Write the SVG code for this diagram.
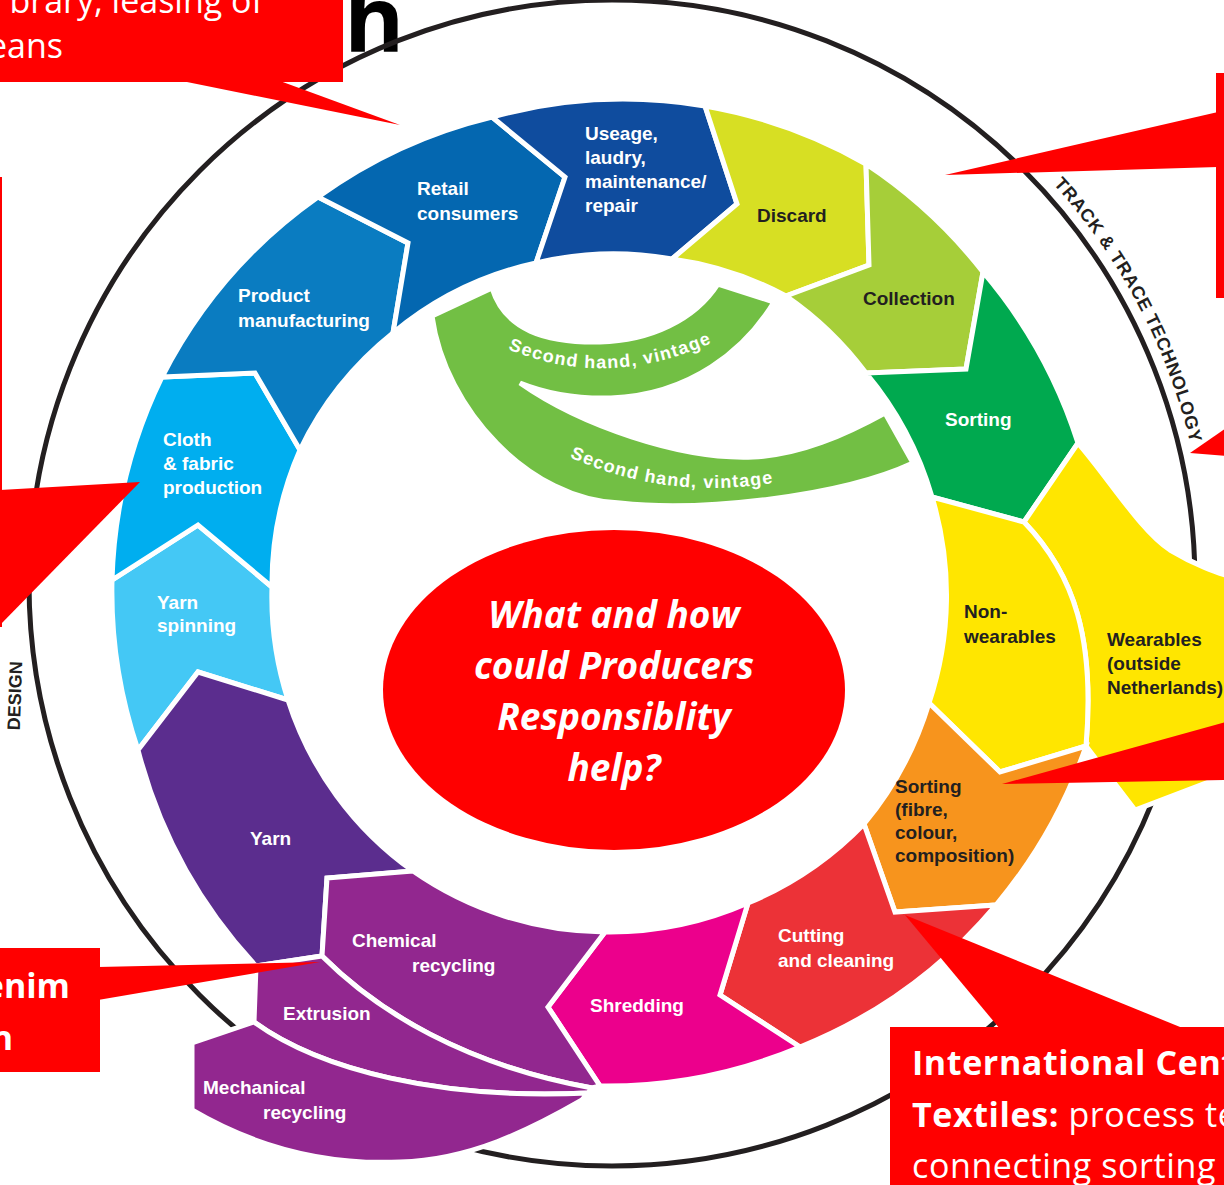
<svg xmlns="http://www.w3.org/2000/svg" width="1224" height="1185" viewBox="0 0 1224 1185">
<style>
.seg{stroke:#fff;stroke-width:5;stroke-linejoin:miter}
.lbl{font-family:"Liberation Sans",Arial,sans-serif;font-size:19px;font-weight:bold}
.w{fill:#fff}
.d{fill:#231F20}
.red{fill:#FF0000}
.co{font-family:"Open Sans","Liberation Sans",sans-serif;font-size:34px;fill:#fff}
.ring{font-family:"Liberation Sans",Arial,sans-serif;font-weight:bold;fill:#231F20}
.sh{font-family:"Liberation Sans",Arial,sans-serif;font-size:18px;font-weight:bold;fill:#fff}
</style>
<defs>
<path id="tt" d="M1032.7,162.3 A595,595 0 0 1 1204.7,531.1"/>
<path id="sh1" d="M505,348 Q608,392 718,340"/>
<path id="sh2" d="M565,455 Q665,502 778,482"/>
</defs>
<rect width="1224" height="1185" fill="#fff"/>

<text x="344" y="52" font-family="'Open Sans','Liberation Sans',sans-serif" font-weight="bold" font-size="92" fill="#000">h</text>

<g id="outer-circle">
<circle cx="612" cy="583" r="583" fill="none" stroke="#231F20" stroke-width="5"/>
<text class="ring" font-size="18"><textPath href="#tt" startOffset="30" textLength="296" lengthAdjust="spacing">TRACK &amp; TRACE TECHNOLOGY</textPath></text>
<text class="ring" font-size="18" transform="translate(21,696) rotate(-88)" text-anchor="middle">DESIGN</text>
</g>

<g id="yarn-spinning">
<path class="seg" fill="#44C8F5" d="M112,580 L198,525 L272,587 A334,334 0 0 0 288,700 L198,672 L138,750 A495,495 0 0 1 112,580 Z"/>
<text class="lbl w" x="157" y="609">Yarn</text>
<text class="lbl w" x="157" y="632">spinning</text>
</g>
<g id="cloth">
<path class="seg" fill="#00AEEF" d="M162,377 L255,373 L300,450 A334,334 0 0 0 272,587 L198,525 L112,580 A495,495 0 0 1 162,377 Z"/>
<text class="lbl w" x="163" y="446">Cloth</text>
<text class="lbl w" x="163" y="470">&amp; fabric</text>
<text class="lbl w" x="163" y="494">production</text>
</g>
<g id="product">
<path class="seg" fill="#0A7CC1" d="M318,197 L408,243 L393,333 A334,334 0 0 0 300,450 L255,373 L162,377 A495,495 0 0 1 318,197 Z"/>
<text class="lbl w" x="238" y="302">Product</text>
<text class="lbl w" x="238" y="327">manufacturing</text>
</g>
<g id="retail">
<path class="seg" fill="#0467B0" d="M492,117 L565,177 L536,263 A334,334 0 0 0 393,333 L408,243 L318,197 A495,495 0 0 1 492,117 Z"/>
<text class="lbl w" x="417" y="195">Retail</text>
<text class="lbl w" x="417" y="220">consumers</text>
</g>
<g id="useage">
<path class="seg" fill="#0F4C9E" d="M705,106 L737,204 L672,259 A334,334 0 0 0 536,263 L565,177 L492,117 A495,495 0 0 1 705,106 Z"/>
<text class="lbl w" x="585" y="140">Useage,</text>
<text class="lbl w" x="585" y="164">laudry,</text>
<text class="lbl w" x="585" y="188">maintenance/</text>
<text class="lbl w" x="585" y="212">repair</text>
</g>
<g id="discard">
<path class="seg" fill="#D7DF23" d="M866,164 L869,265 L786,296 A340,340 0 0 0 672,259 L737,204 L705,106 A495,495 0 0 1 866,164 Z"/>
<text class="lbl d" x="757" y="222">Discard</text>
</g>
<g id="collection">
<path class="seg" fill="#A6CE39" d="M983,272 L966,369 L866,373 A340,340 0 0 0 786,296 L869,265 L866,164 A495,495 0 0 1 983,272 Z"/>
<text class="lbl d" x="863" y="305">Collection</text>
</g>
<g id="sorting">
<path class="seg" fill="#00A94F" d="M1078,443 L1024,522 L932,497 A340,340 0 0 0 866,373 L966,369 L983,272 A495,495 0 0 1 1078,443 Z"/>
<text class="lbl w" x="945" y="426">Sorting</text>
</g>
<g id="wearables">
<path class="seg" fill="#FFE600" d="M1078,443 C1110,480 1140,530 1170,550 C1195,565 1215,572 1240,580 L1240,770 L1135,810 L1086,746 C1095,640 1075,575 1024,522 Z"/>
<text class="lbl d" x="1107" y="646">Wearables</text>
<text class="lbl d" x="1107" y="670">(outside</text>
<text class="lbl d" x="1107" y="694">Netherlands)</text>
</g>
<g id="non-wearables">
<path class="seg" fill="#FFE600" d="M1024,522 C1075,575 1095,640 1086,746 L1000,772 L929,703 A340,340 0 0 0 932,497 Z"/>
<text class="lbl d" x="964" y="618">Non-</text>
<text class="lbl d" x="964" y="643">wearables</text>
</g>
<g id="sorting-fibre">
<path class="seg" fill="#F7941D" d="M1086,746 A500,500 0 0 1 996,905 L895,912 L864,824 A345,345 0 0 0 929,703 L1000,772 Z"/>
<text class="lbl d" x="895" y="793">Sorting</text>
<text class="lbl d" x="895" y="816">(fibre,</text>
<text class="lbl d" x="895" y="839">colour,</text>
<text class="lbl d" x="895" y="862">composition)</text>
</g>
<g id="cutting">
<path class="seg" fill="#EC3237" d="M996,905 A500,500 0 0 1 800,1047 L720,995 L748,903 A345,345 0 0 0 864,824 L895,912 Z"/>
<text class="lbl w" x="778" y="942">Cutting</text>
<text class="lbl w" x="778" y="967">and cleaning</text>
</g>
<g id="shredding">
<path class="seg" fill="#EC008C" d="M800,1047 A500,500 0 0 1 600,1086 L548,1007 L605,932 A345,345 0 0 0 748,903 L720,995 Z"/>
<text class="lbl w" x="590" y="1012">Shredding</text>
</g>
<g id="yarn">
<path class="seg" fill="#5B2D8E" d="M138,750 L198,672 L288,700 A334,334 0 0 0 413,871 L327,878 L322,956 L256,966 A500,500 0 0 1 138,750 Z"/>
<text class="lbl w" x="250" y="845">Yarn</text>
</g>
<g id="chemical-recycling">
<path class="seg" fill="#92278F" d="M413,871 A340,340 0 0 0 605,932 L548,1007 L600,1086 L592,1088 C465,1065 378,1012 322,956 L327,878 Z"/>
<text class="lbl w" x="352" y="947">Chemical</text>
<text class="lbl w" x="412" y="972">recycling</text>
</g>
<g id="extrusion">
<path class="seg" fill="#92278F" d="M256,966 L322,956 C378,1012 465,1065 592,1088 L588,1093 C440,1100 320,1070 254,1022 Z"/>
<text class="lbl w" x="283" y="1020">Extrusion</text>
</g>
<g id="mechanical-recycling">
<path class="seg" fill="#92278F" d="M192,1043 L254,1022 C320,1070 440,1100 588,1093 L582,1100 C530,1130 470,1160 400,1162 C330,1165 260,1150 192,1110 Z"/>
<text class="lbl w" x="203" y="1094">Mechanical</text>
<text class="lbl w" x="263" y="1119">recycling</text>
</g>
<g id="second-hand">
<path class="seg" fill="#72BF44" d="M492,288 C505,330 545,343 600,342 C650,341 695,320 718,284 L774,302 C745,350 690,395 611,398 C575,399 545,393 520,383 C580,425 680,460 753,457 C800,455 845,435 885,413 L913,463 C840,497 700,512 620,503 C530,500 445,410 432,316 Z"/>
<text class="sh"><textPath href="#sh1" startOffset="3" textLength="210" lengthAdjust="spacing">Second hand, vintage</textPath></text>
<text class="sh"><textPath href="#sh2" startOffset="5" textLength="208" lengthAdjust="spacing">Second hand, vintage</textPath></text>
</g>

<g id="question">
<ellipse cx="614" cy="690" rx="231" ry="160" fill="#FF0000"/>
<g font-family="'Open Sans','Liberation Sans',sans-serif" font-size="37" font-weight="bold" font-style="italic" fill="#fff" text-anchor="middle">
<text x="614" y="628">What and how</text>
<text x="614" y="679">could Producers</text>
<text x="614" y="730">Responsiblity</text>
<text x="614" y="781">help?</text>
</g>
</g>

<g id="connectors">
<polygon class="red" points="182,81 400,125 280,81"/>
<polygon class="red" points="0,490 140,482 0,625"/>
<polygon class="red" points="98,967 320,962 98,1000"/>
<polygon class="red" points="1218,112 945,175 1218,167"/>
<polygon class="red" points="1226,428 1190,453 1226,456"/>
<polygon class="red" points="1226,722 1002,784 1226,780"/>
<polygon class="red" points="1000,1029 905,915 1185,1029"/>
</g>

<g id="callout-top-left">
<rect class="red" x="-10" y="-10" width="353" height="92"/>
<text class="co" x="263" y="13" text-anchor="end">brary, leasing of</text>
<text class="co" x="63" y="58" text-anchor="end">eans</text>
</g>
<g id="callout-left">
<rect class="red" x="-10" y="177" width="12" height="450"/>
</g>
<g id="callout-bottom-left">
<rect class="red" x="-10" y="948" width="110" height="124"/>
<text class="co" x="70" y="998" text-anchor="end" font-weight="bold">enim</text>
<text class="co" x="13" y="1050" text-anchor="end" font-weight="bold">n</text>
</g>
<g id="callout-top-right">
<rect class="red" x="1216" y="73" width="20" height="225"/>
</g>
<g id="callout-bottom-right">
<rect class="red" x="890" y="1027" width="345" height="170"/>
<text class="co" x="912" y="1075" font-weight="bold" letter-spacing="0.6">International Cent</text>
<text class="co" x="912" y="1127" letter-spacing="0.6"><tspan font-weight="bold">Textiles:</tspan> process te</text>
<text class="co" x="912" y="1178" letter-spacing="0.6">connecting sorting</text>
</g>
</svg>
